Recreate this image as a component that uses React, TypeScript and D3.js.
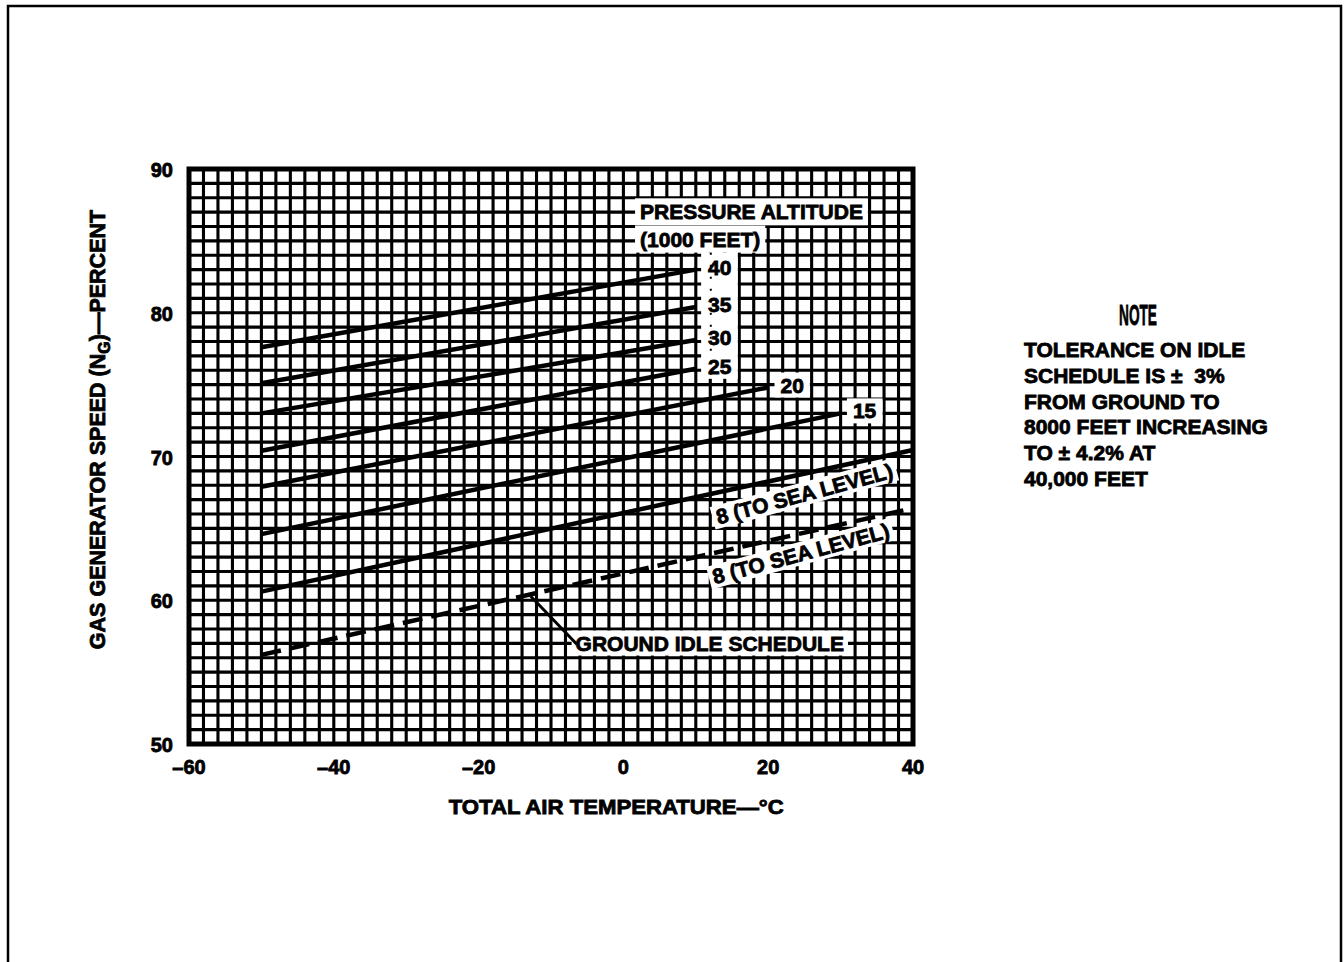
import { useEffect, useRef } from 'react';
import * as d3 from 'd3';

// axis ticks
const tempTicks = [-60, -40, -20, 0, 20, 40];
const speedTicks = [50, 60, 70, 80, 90];

// pressure altitude lines (1000 ft)
const altitudeLabels = ['40', '35', '30', '25', '20', '15'];
const lineStartTemp = [-50, -50, -50, -50, -50, -50, -50];
const lineEndTemp = [10, 10, 10, 10, 20, 30, 40];
const lineStartSpeed = [77.6, 75.1, 73.0, 70.4, 67.9, 64.6, 60.6];
const lineEndSpeed = [83.0, 80.4, 78.1, 76.1, 74.8, 73.0, 70.45];

// ground idle schedule (dashed)
const idleTemp = [-50, 40];
const idleSpeed = [56.2, 66.4];

const noteLines = [
  'TOLERANCE ON IDLE',
  'SCHEDULE IS \u00B1\u00A0 3%',
  'FROM GROUND TO',
  '8000 FEET INCREASING',
  'TO \u00B1 4.2% AT',
  '40,000 FEET',
];

const FONT = '"Liberation Sans", Arial, Helvetica, sans-serif';

export default function App() {
  const svgRef = useRef<SVGSVGElement>(null);

  useEffect(() => {
    if (!svgRef.current) return;
    const width = 1344;
    const height = 962;
    const margin = { top: 169, right: 431, bottom: 218, left: 189 };
    const innerW = width - margin.left - margin.right;
    const innerH = height - margin.top - margin.bottom;

    const svg = d3.select(svgRef.current);
    svg.selectAll('*').remove();
    svg.attr('width', width).attr('height', height);

    // page frame
    svg.append('rect')
      .attr('x', 8).attr('y', 6)
      .attr('width', 1333).attr('height', 1000)
      .attr('fill', 'none').attr('stroke', '#000').attr('stroke-width', 2.5);

    const g = svg.append('g').attr('transform', `translate(${margin.left},${margin.top})`);

    const x = d3.scaleLinear().domain([-60, 40]).range([0, innerW]);
    const y = d3.scaleLinear().domain([50, 90]).range([innerH, 0]);

    // dense grid: 2 deg x 1 percent
    g.append('g')
      .selectAll('line')
      .data(d3.range(-60, 40.1, 2))
      .join('line')
      .attr('x1', d => x(d)).attr('x2', d => x(d))
      .attr('y1', 0).attr('y2', innerH)
      .attr('stroke', '#000').attr('stroke-width', 3.1);
    g.append('g')
      .selectAll('line')
      .data(d3.range(50, 90.1, 1))
      .join('line')
      .attr('y1', d => y(d)).attr('y2', d => y(d))
      .attr('x1', 0).attr('x2', innerW)
      .attr('stroke', '#000').attr('stroke-width', 3.1);

    // plot border
    g.append('rect')
      .attr('width', innerW).attr('height', innerH)
      .attr('fill', 'none').attr('stroke', '#000').attr('stroke-width', 5);

    // text helper
    const txt = (sel: any, size = 21) =>
      sel.attr('font-family', FONT).attr('font-weight', 'bold').attr('font-size', size)
        .attr('fill', '#000').attr('stroke', '#000').attr('stroke-width', 0.8);

    const withBg = (parent: any, padX: number, padY: number) => {
      const node = parent.select('text').node() as SVGTextElement;
      const b = node.getBBox();
      parent.insert('rect', 'text')
        .attr('x', b.x - padX).attr('y', b.y - padY)
        .attr('width', b.width + padX * 2).attr('height', b.height + padY * 2)
        .attr('fill', '#fff');
      return b;
    };

    // legend title box
    const lt = g.append('g');
    txt(lt.append('text').attr('x', x(2.3)).attr('y', y(86.5)).text('PRESSURE ALTITUDE'));
    withBg(lt, 5, 2);
    const lt2 = g.append('g');
    txt(lt2.append('text').attr('x', x(2.3)).attr('y', y(84.6)).text('(1000 FEET)'));
    const b2 = withBg(lt2, 5, 2);

    // column for 40..25 labels
    const colTop = b2.y + b2.height + 2;
    const colG = g.append('g');

    // altitude lines
    lineStartTemp.forEach((t0, i) => {
      g.append('line')
        .attr('x1', x(t0)).attr('y1', y(lineStartSpeed[i]))
        .attr('x2', x(lineEndTemp[i])).attr('y2', y(lineEndSpeed[i]))
        .attr('stroke', '#000').attr('stroke-width', 4.5);
    });

    // idle schedule dashed
    const idleLine = d3.line<number>()
      .x((d, i) => x(idleTemp[i]))
      .y(d => y(d));
    g.append('path')
      .datum(idleSpeed)
      .attr('d', idleLine)
      .attr('fill', 'none').attr('stroke', '#000')
      .attr('stroke-width', 4.5).attr('stroke-dasharray', '20 9');

    // altitude number labels
    const colBoxes: DOMRect[] = [];
    altitudeLabels.forEach((lab, i) => {
      const lg = g.append('g');
      txt(lg.append('text')
        .attr('x', x(lineEndTemp[i]) + 24)
        .attr('y', y(lineEndSpeed[i]) + 5)
        .attr('text-anchor', 'middle')
        .text(lab));
      const node = lg.select('text').node() as SVGTextElement;
      const b = node.getBBox();
      if (i < 4) {
        colBoxes.push(b);
      } else {
        lg.insert('rect', 'text')
          .attr('x', b.x - 6).attr('y', b.y - 1)
          .attr('width', b.width + 12).attr('height', b.height + 2)
          .attr('fill', '#fff');
      }
    });
    const cx0 = d3.min(colBoxes, b => b.x)! - 7;
    const cx1 = d3.max(colBoxes, b => b.x + b.width)! + 6;
    const cy1 = d3.max(colBoxes, b => b.y + b.height)! + 1;
    colG.append('rect')
      .attr('x', cx0).attr('y', colTop)
      .attr('width', cx1 - cx0).attr('height', cy1 - colTop)
      .attr('fill', '#fff');
    // dotted grid remnant between labels
    colG.append('line')
      .attr('x1', x(10) + 15).attr('x2', x(10) + 15)
      .attr('y1', colTop).attr('y2', cy1)
      .attr('stroke', '#000').attr('stroke-width', 2).attr('stroke-dasharray', '2 10');

    // sea level labels, rotated along lines
    const seaT = 25;
    const solidI = 6;
    const solidAt = lineStartSpeed[solidI] + (seaT - lineStartTemp[solidI]) * (lineEndSpeed[solidI] - lineStartSpeed[solidI]) / (lineEndTemp[solidI] - lineStartTemp[solidI]);
    const idleAt = idleSpeed[0] + (seaT - 0.5 - idleTemp[0]) * (idleSpeed[1] - idleSpeed[0]) / (idleTemp[1] - idleTemp[0]);
    [[seaT, solidAt], [seaT - 0.5, idleAt]].forEach(([t, s]) => {
      const sg = g.append('g')
        .attr('transform', `translate(${x(t)},${y(s) + 20}) rotate(-15)`);
      txt(sg.append('text').attr('text-anchor', 'middle').attr('dy', '0.36em').text('8 (TO SEA LEVEL)'));
      withBg(sg, 4, 0);
    });

    // ground idle schedule callout
    const calloutT = -12.8;
    const calloutS = idleSpeed[0] + (calloutT - idleTemp[0]) * (idleSpeed[1] - idleSpeed[0]) / (idleTemp[1] - idleTemp[0]);
    const gi = g.append('g');
    txt(gi.append('text').attr('x', x(-6.6)).attr('y', y(56.5)).text('GROUND IDLE SCHEDULE'));
    withBg(gi, 4, 1);
    g.append('line')
      .attr('x1', x(calloutT)).attr('y1', y(calloutS) + 2)
      .attr('x2', x(-6.4)).attr('y2', y(56.5) - 6)
      .attr('stroke', '#000').attr('stroke-width', 3);

    // x axis tick labels
    g.append('g')
      .selectAll('text')
      .data(tempTicks)
      .join('text')
      .attr('x', d => x(d)).attr('y', innerH + 30)
      .attr('text-anchor', 'middle')
      .text(d => (d < 0 ? '\u2013' + Math.abs(d) : String(d)))
      .call(s => txt(s, 20));

    // y axis tick labels
    g.append('g')
      .selectAll('text')
      .data(speedTicks)
      .join('text')
      .attr('x', -16).attr('y', d => y(d))
      .attr('dy', '0.4em')
      .attr('text-anchor', 'end')
      .text(d => String(d))
      .call(s => txt(s, 20));

    // axis titles
    txt(g.append('text')
      .attr('x', x(-1)).attr('y', innerH + 70)
      .attr('text-anchor', 'middle')
      .attr('textLength', 335).attr('lengthAdjust', 'spacingAndGlyphs'), 20)
      .text('TOTAL AIR TEMPERATURE\u2014\u00B0C');

    const yl = txt(g.append('text')
      .attr('transform', `translate(${-84},${y(70) - 27}) rotate(-90)`)
      .attr('text-anchor', 'middle'), 21.5);
    yl.append('tspan').text('GAS GENERATOR SPEED (N');
    yl.append('tspan').attr('font-size', 16).attr('dy', 5).text('G');
    yl.append('tspan').attr('dy', -5).text(')\u2014PERCENT');

    // note block
    const note = svg.append('g');
    txt(note.append('text')
      .attr('x', 1138).attr('y', 325)
      .attr('text-anchor', 'middle')
      .attr('textLength', 38).attr('lengthAdjust', 'spacingAndGlyphs'), 30)
      .text('NOTE');
    note.selectAll('text.line')
      .data(noteLines)
      .join('text')
      .attr('class', 'line')
      .attr('x', 1024).attr('y', (d, i) => 357 + i * 25.8)
      .text(d => d)
      .call(s => txt(s, 21));
  }, []);

  return (
    <div style={{ position: 'absolute', left: 0, top: 0, background: '#fff' }}>
      <svg ref={svgRef} style={{ display: 'block' }}></svg>
    </div>
  );
}
